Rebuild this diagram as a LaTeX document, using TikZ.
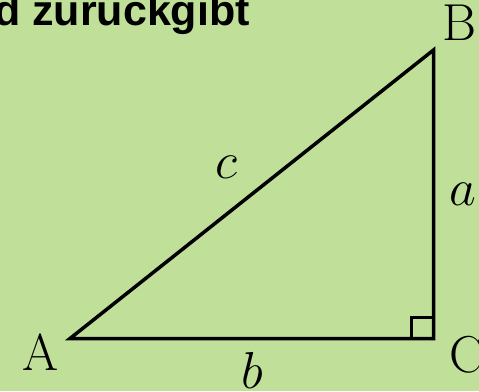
\documentclass[tikz,border=0pt]{standalone}
\usepackage{fix-cm}
\usepackage{fontspec}
\usetikzlibrary{positioning}
\newfontfamily\headfont{Liberation Sans}
\definecolor{Leaf}{HTML}{C0E09A}

\begin{document}
\begin{tikzpicture}[x=1pt,y=-1pt,
    side/.style={line width=3.5pt},
    vlab/.style={inner sep=0pt,anchor=base,font=\fontsize{52}{56}\selectfont},
    headline/.style={inner sep=0pt,anchor=base east,
      font=\headfont\bfseries\fontsize{43}{48}\selectfont}
  ]
    \fill[Leaf] (0,0) rectangle (479,391);
    \clip (0,0) rectangle (479,391);
    \node[headline] (head) at (250,25.5) {d zurückgibt};
    % corners of the triangle
    \coordinate (A) at (70,338.5);
    \coordinate (C) at (433.5,338.5);
    \coordinate (B) at (433.5,50);
    \draw[side] (A) -- (C) -- (B) -- cycle;
    \draw[line width=3pt] (C) ++(-22,0) -- ++(0,-21) -- ++(22,0);
    % vertex and side labels
    \node[vlab] (lA) at (40.5,370) {A};
    \node[vlab] (lB) at (459,40) {B};
    \node[vlab] (lC) at (467,372) {C};
    \node[vlab] (lc) at (226.5,178) {$c$};
    \node[vlab] (la) at (462.5,205) {$a$};
    \node[vlab] (lb) at (252.5,388) {$b$};
  \end{tikzpicture}
\end{document}
